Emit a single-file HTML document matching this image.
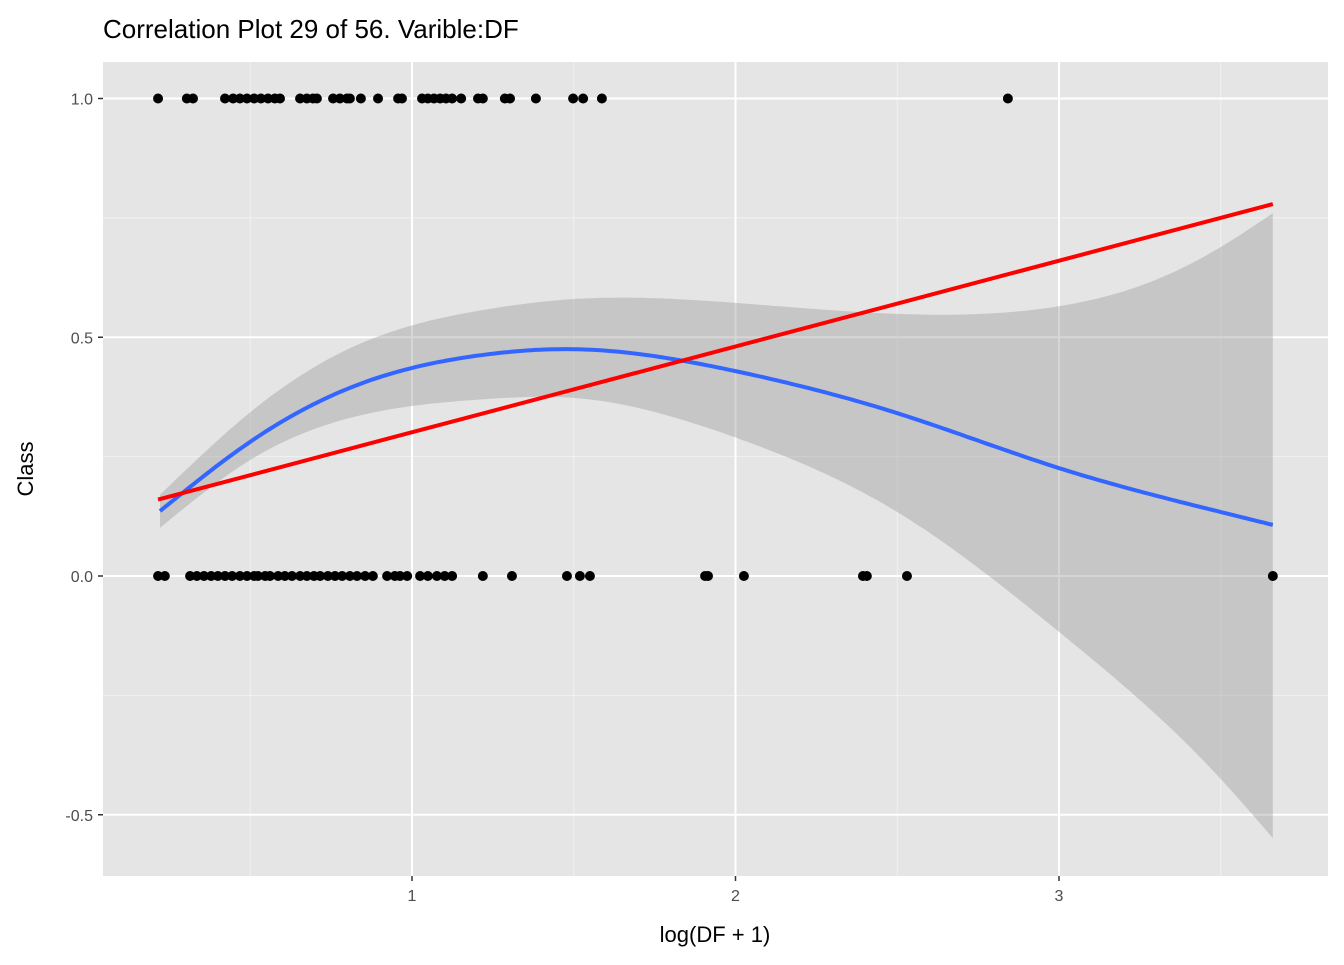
<!DOCTYPE html>
<html><head><meta charset="utf-8"><style>
body{margin:0;background:#fff;font-family:"Liberation Sans",Arial,sans-serif}
</style></head><body>
<svg id="chart" width="1344" height="960" xmlns="http://www.w3.org/2000/svg" font-family="Liberation Sans, Arial, sans-serif">
<text x="103" y="38" font-size="26" fill="#000">Correlation Plot 29 of 56. Varible:DF</text>
<rect x="103" y="62" width="1225" height="814" fill="#e5e5e5"/>
<g id="grid"></g><g id="marks"></g><g id="axes"></g>
<text x="715" y="942" font-size="22" text-anchor="middle">log(DF + 1)</text>
<text transform="translate(33,469) rotate(-90)" font-size="22" text-anchor="middle">Class</text>
</svg>
<script>
const xTicks=[1,2,3], xMinor=[0.5,1.5,2.5,3.5];
const yTicks=[-0.5,0,0.5,1], yTickLabels=["-0.5","0.0","0.5","1.0"], yMinor=[-0.25,0.25,0.75];
const pos1=[0.215,0.304,0.323,0.422,0.447,0.468,0.49,0.512,0.533,0.555,0.576,0.592,0.654,0.675,0.694,0.706,0.756,0.777,0.799,0.808,0.842,0.895,0.957,0.969,1.031,1.049,1.068,1.087,1.105,1.124,1.152,1.204,1.219,1.287,1.303,1.383,1.498,1.529,1.587,2.842];
const pos0=[0.215,0.236,0.314,0.335,0.357,0.379,0.4,0.422,0.444,0.468,0.49,0.512,0.524,0.546,0.561,0.586,0.607,0.629,0.654,0.675,0.697,0.716,0.74,0.762,0.784,0.808,0.83,0.855,0.879,0.923,0.947,0.963,0.985,1.025,1.049,1.077,1.101,1.124,1.219,1.309,1.479,1.519,1.55,1.906,1.915,2.026,2.394,2.406,2.53,3.661];
const fitX=[0.221,0.5,0.808,1.219,1.5,2.0,2.5,3.0,3.5,3.661];
const smoothFit=[0.136,0.281,0.394,0.463,0.475,0.429,0.341,0.226,0.134,0.107];
const upperX=[0.221,0.5,0.808,1.219,1.5,2.0,2.5,3.0,3.272,3.5,3.661];
const smoothUpper=[0.170,0.343,0.477,0.557,0.580,0.572,0.549,0.565,0.613,0.689,0.760];
const lowerX=[0.221,0.5,0.808,1.219,1.5,2.0,2.5,3.0,3.5,3.661];
const smoothLower=[0.101,0.243,0.331,0.370,0.373,0.290,0.134,-0.117,-0.425,-0.549];
const lineX=[0.215,3.661], lineY=[0.16,0.779];
const X=v=>88.5+323.5*v, Y=v=>576-477.5*v;
const NS="http://www.w3.org/2000/svg";
function mk(t,a,p){const e=document.createElementNS(NS,t);for(const k in a)e.setAttribute(k,a[k]);p.appendChild(e);return e;}
const grid=document.getElementById('grid'),marks=document.getElementById('marks'),axes=document.getElementById('axes');
xMinor.forEach(v=>{const l=mk('line',{x1:X(v),x2:X(v),y1:62,y2:876,stroke:'#f2f2f2','stroke-width':1},grid);

});
yMinor.forEach(v=>{const l=mk('line',{x1:103,x2:1328,y1:Y(v),y2:Y(v),stroke:'#f2f2f2','stroke-width':1},grid);

});
xTicks.forEach(v=>{const l=mk('line',{x1:X(v),x2:X(v),y1:62,y2:876,stroke:'#fff','stroke-width':2},grid);


const t=mk('line',{x1:X(v),x2:X(v),y1:876,y2:881,stroke:'#333','stroke-width':1.5},axes);


const tx=mk('text',{x:X(v),y:901,'font-size':16,fill:'#4d4d4d','text-anchor':'middle'},axes);tx.textContent=String(v);

});
yTicks.forEach((v,i)=>{const l=mk('line',{x1:103,x2:1328,y1:Y(v),y2:Y(v),stroke:'#fff','stroke-width':2},grid);


const t=mk('line',{x1:98,x2:103,y1:Y(v),y2:Y(v),stroke:'#333','stroke-width':1.5},axes);


const tx=mk('text',{x:93,y:Y(v)+6,'font-size':16,fill:'#4d4d4d','text-anchor':'end'},axes);tx.textContent=yTickLabels[i];

});
function spline(xs,ys){const n=xs.length,h=[],al=[],l=[1],mu=[0],z=[0],c=new Array(n).fill(0),b=[],d=[];
for(let i=0;i<n-1;i++)h.push(xs[i+1]-xs[i]);
for(let i=1;i<n-1;i++)al[i]=3/h[i]*(ys[i+1]-ys[i])-3/h[i-1]*(ys[i]-ys[i-1]);
for(let i=1;i<n-1;i++){l[i]=2*(xs[i+1]-xs[i-1])-h[i-1]*mu[i-1];mu[i]=h[i]/l[i];z[i]=(al[i]-h[i-1]*z[i-1])/l[i];}
for(let j=n-2;j>=0;j--){c[j]=(z[j]||0)-mu[j]*c[j+1];b[j]=(ys[j+1]-ys[j])/h[j]-h[j]*(c[j+1]+2*c[j])/3;d[j]=(c[j+1]-c[j])/(3*h[j]);}
return x=>{let i=0;while(i<n-2&&x>xs[i+1])i++;const t=x-xs[i];return ys[i]+b[i]*t+c[i]*t*t+d[i]*t*t*t;};}
function pts(xs,ys){const f=spline(xs,ys),out=[],N=240;for(let k=0;k<=N;k++){const x=xs[0]+(xs[xs.length-1]-xs[0])*k/N;out.push([X(x),Y(f(x))]);}return out;}
const up=pts(upperX,smoothUpper),lo=pts(lowerX,smoothLower).reverse(),fit=pts(fitX,smoothFit);
const band=mk('path',{d:'M'+up.concat(lo).map(p=>p[0].toFixed(1)+','+p[1].toFixed(1)).join('L')+'Z',fill:'#999','fill-opacity':0.4},marks);


pos1.forEach(v=>{const c=mk('circle',{cx:X(v),cy:Y(1),r:5,fill:'#000'},marks);

});
pos0.forEach(v=>{const c=mk('circle',{cx:X(v),cy:Y(0),r:5,fill:'#000'},marks);

});
const blue=mk('path',{d:'M'+fit.map(p=>p[0].toFixed(1)+','+p[1].toFixed(1)).join('L'),fill:'none',stroke:'#3366ff','stroke-width':4},marks);


const red=mk('line',{x1:X(lineX[0]),y1:Y(lineY[0]),x2:X(lineX[1]),y2:Y(lineY[1]),stroke:'#ff0000','stroke-width':4},marks);


</script>
</body></html>
